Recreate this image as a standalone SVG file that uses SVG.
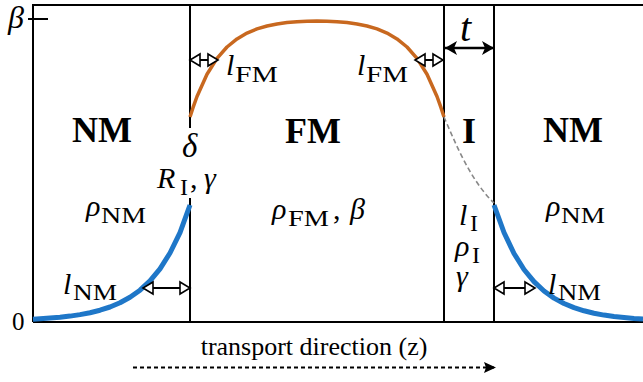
<svg xmlns="http://www.w3.org/2000/svg" width="643" height="382" viewBox="0 0 643 382" font-family="'Liberation Serif', 'Times New Roman', Times, serif">
<style>
text{font-family:'Liberation Serif','Times New Roman',Times,serif;fill:#000}
.ln{stroke:#000;stroke-width:2;fill:none}
.m{font-style:italic;font-size:30px}
.r{font-size:30px}
.sub{font-size:22.5px}
.b{font-weight:bold;font-size:36px}
.tx{font-size:26px}
.oh{stroke:#000;stroke-width:2;fill:none;marker-start:url(#hollow);marker-end:url(#hollow)}
</style>
<defs>
<marker id="hollow" markerUnits="userSpaceOnUse" markerWidth="14" markerHeight="16" viewBox="-1 -8 14 16" refX="11" refY="0" orient="auto-start-reverse">
<path d="M1,-6 L11,0 L1,6 Z" fill="#fff" stroke="#000" stroke-width="1.6" stroke-linejoin="miter"/>
</marker>
<marker id="stealth" markerUnits="userSpaceOnUse" markerWidth="14" markerHeight="16" viewBox="0 -8 14 16" refX="12" refY="0" orient="auto-start-reverse">
<path d="M0,-7 L12,0 L0,7 L3,0 Z" fill="#000"/>
</marker>
<marker id="tri" markerUnits="userSpaceOnUse" markerWidth="14" markerHeight="14" viewBox="0 -7 14 14" refX="12" refY="0" orient="auto">
<path d="M0,-5.5 L12,0 L0,5.5 L2,0 Z" fill="#000"/>
</marker>
</defs>

<g id="frame">
<path class="ln" d="M33,322 V5 H643"/>
<path class="ln" d="M33,322 H643"/>
<path class="ln" d="M28,19 H48"/>
<path class="ln" d="M190,5 V128 M190,198 V323"/>
<path class="ln" d="M444,5 V323"/>
<path class="ln" d="M494,5 V323"/>
<text class="m" x="8" y="28" font-size="32" style="font-size:32px">β</text>
<text x="12" y="330" font-size="25" style="font-size:25px">0</text>
</g>

<g id="curves" fill="none" stroke-linejoin="round" stroke-linecap="butt">
<polyline stroke="#c8681f" stroke-width="3.5" points="190,117 193,107.7 197,96.5 207,74.3 217,58.4 227,47 237,38.9 247,33.1 257,28.9 267,26 277,24 287,22.6 297,21.7 307,21.2 317,21 327,21.2 337,21.7 347,22.6 357,24 367,26 377,28.9 387,33.1 397,38.9 407,47 417,58.4 427,74.3 437,96.5 441,107.7 444,117"/>
<path d="M444,117 C455,142 470,180 494,203" stroke="#888" stroke-width="1.6" stroke-dasharray="5 3"/>
<polyline stroke="#1f77c8" stroke-width="5" points="33,319.2 40,318.8 50,318.1 60,317.3 70,316.1 80,314.6 90,312.7 100,310.2 110,307 120,302.8 130,297.3 140,290.2 150,280.9 160,268.8 170,253 180,232.6 190,205"/>
<polyline stroke="#1f77c8" stroke-width="5" points="494,205 504,232.5 514,253.5 524,269.5 534,281.7 544,291 554,298.1 564,303.5 574,307.6 584,310.8 594,313.2 604,315.1 614,316.5 624,317.5 634,318.4 643,318.9"/>
</g>

<g id="nm-left">
<text class="b" x="72" y="142">NM</text>
<text class="m" x="86" y="216">ρ</text>
<text class="sub" x="101" y="223" textLength="45" lengthAdjust="spacingAndGlyphs">NM</text>
<text class="m" x="63" y="294">l</text>
<text class="sub" x="73" y="300" textLength="44" lengthAdjust="spacingAndGlyphs">NM</text>
</g>

<g id="interface-nm-fm">
<text class="m" x="182" y="157" font-size="33" style="font-size:33px">δ</text>
<text class="m" x="157" y="188">R</text>
<text class="sub" x="180" y="195" textLength="8" lengthAdjust="spacingAndGlyphs">I</text>
<text class="r" x="190" y="188">,</text>
<text class="m" x="204" y="188">γ</text>
</g>

<g id="fm">
<text class="b" x="285" y="143">FM</text>
<text class="m" x="272" y="219">ρ</text>
<text class="sub" x="288" y="226" textLength="41" lengthAdjust="spacingAndGlyphs">FM</text>
<text class="r" x="333" y="219">,</text>
<text class="m" x="350" y="219">β</text>
<text class="m" x="226" y="75">l</text>
<text class="sub" x="235" y="82" textLength="43" lengthAdjust="spacingAndGlyphs">FM</text>
<text class="m" x="357" y="75">l</text>
<text class="sub" x="366" y="82" textLength="42" lengthAdjust="spacingAndGlyphs">FM</text>
</g>

<g id="i-layer">
<text class="b" x="462" y="143">I</text>
<text class="m" x="459" y="225">l</text>
<text class="sub" x="470" y="231" textLength="8" lengthAdjust="spacingAndGlyphs">I</text>
<text class="m" x="455" y="256">ρ</text>
<text class="sub" x="472" y="263" textLength="8" lengthAdjust="spacingAndGlyphs">I</text>
<text class="m" x="456" y="286">γ</text>
<text class="m" x="460" y="41" font-size="40" style="font-size:40px">t</text>
</g>

<g id="nm-right">
<text class="b" x="543" y="142">NM</text>
<text class="m" x="546" y="216">ρ</text>
<text class="sub" x="561" y="223" textLength="44" lengthAdjust="spacingAndGlyphs">NM</text>
<text class="m" x="548" y="294">l</text>
<text class="sub" x="558" y="300" textLength="43" lengthAdjust="spacingAndGlyphs">NM</text>
</g>

<g id="connectors">
<line class="oh" x1="190" y1="60" x2="218" y2="60"/>
<line class="oh" x1="415" y1="60" x2="443" y2="60"/>
<line class="oh" x1="143" y1="288" x2="190" y2="288"/>
<line class="oh" x1="494" y1="288" x2="535" y2="288"/>
<line x1="445" y1="48" x2="494" y2="48" stroke="#000" stroke-width="2.6" marker-start="url(#stealth)" marker-end="url(#stealth)"/>
<line x1="133" y1="367.5" x2="496" y2="367.5" stroke="#000" stroke-width="2" stroke-dasharray="4 3" marker-end="url(#tri)"/>
<text class="tx" x="314" y="355" text-anchor="middle">transport direction (z)</text>
</g>
</svg>
